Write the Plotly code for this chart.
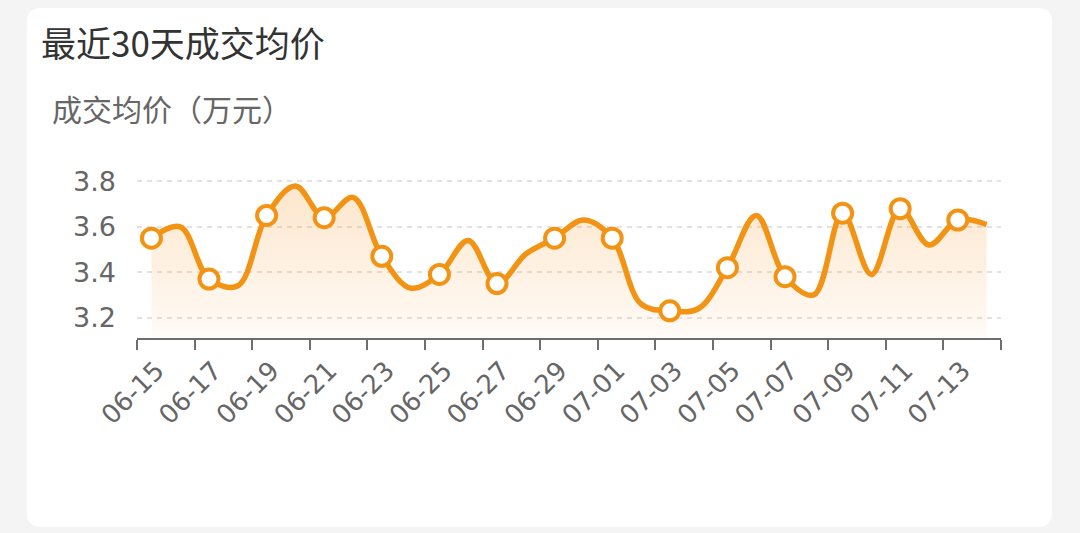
import plotly.graph_objects as go

dates = ["06-15", "06-16", "06-17", "06-18", "06-19", "06-20", "06-21", "06-22", "06-23", "06-24",
         "06-25", "06-26", "06-27", "06-28", "06-29", "06-30", "07-01", "07-02", "07-03", "07-04",
         "07-05", "07-06", "07-07", "07-08", "07-09", "07-10", "07-11", "07-12", "07-13", "07-14"]
prices = [3.55, 3.60, 3.37, 3.34, 3.65, 3.78, 3.64, 3.73, 3.47, 3.33,
          3.39, 3.54, 3.35, 3.48, 3.55, 3.63, 3.55, 3.26, 3.23, 3.24,
          3.42, 3.65, 3.38, 3.30, 3.66, 3.39, 3.68, 3.52, 3.63, 3.61]
y_ticks = [3.2, 3.4, 3.6, 3.8]
y_min, y_max = 3.11, 3.89

title_text = "最近30天成交均价"
unit_text = "成交均价（万元）"

ORANGE = "#F39313"
W, H = 1080, 533
L, R, T, B = 137, 79, 161, 195
pw, ph = W - L - R, H - T - B

idx = list(range(len(dates)))


def px(x):
    return (x - L) / pw


def py(y):
    return 1 - (y - T) / ph


fig = go.Figure()

fig.add_trace(go.Scatter(
    x=idx, y=prices, mode="lines",
    line=dict(color=ORANGE, width=5.5, shape="spline", smoothing=1.0),
    fill="tozeroy",
    fillgradient=dict(type="vertical", start=y_min, stop=max(prices),
                      colorscale=[[0, "rgba(247,150,40,0.04)"], [1, "rgba(247,150,40,0.24)"]]),
    hoverinfo="skip", showlegend=False,
))
fig.add_trace(go.Scatter(
    x=idx[::2], y=prices[::2], mode="markers",
    marker=dict(size=19, color="white", line=dict(color=ORANGE, width=4)),
    showlegend=False,
))

# card with rounded corners
x0, x1, y0, y1, r = 27, 1052, 8, 527, 14
X0, X1 = px(x0), px(x1)
Y0, Y1 = py(y0), py(y1)
rx, ry = r / pw, r / ph
path = (f"M {X0 + rx},{Y0} L {X1 - rx},{Y0} Q {X1},{Y0} {X1},{Y0 - ry} "
        f"L {X1},{Y1 + ry} Q {X1},{Y1} {X1 - rx},{Y1} L {X0 + rx},{Y1} "
        f"Q {X0},{Y1} {X0},{Y1 + ry} L {X0},{Y0 - ry} Q {X0},{Y0} {X0 + rx},{Y0} Z")
fig.add_shape(type="path", path=path, xref="paper", yref="paper",
              fillcolor="white", line=dict(width=0), layer="below")

fig.add_annotation(text=title_text, x=px(39), y=py(41), xref="paper", yref="paper",
                   xanchor="left", yanchor="middle", showarrow=False,
                   font=dict(family="Noto Sans CJK SC", size=35, color="#333333"))
fig.add_annotation(text=unit_text, x=px(50), y=py(108), xref="paper", yref="paper",
                   xanchor="left", yanchor="middle", showarrow=False,
                   font=dict(family="Noto Sans CJK SC", size=30, color="#666666"))

fig.update_layout(
    width=W, height=H,
    margin=dict(l=L, r=R, t=T, b=B),
    paper_bgcolor="#f4f4f4",
    plot_bgcolor="rgba(0,0,0,0)",
    xaxis=dict(
        range=[-0.5, len(dates) - 0.5],
        tickmode="array", tickvals=idx[::2], ticktext=dates[::2],
        tickangle=-45, ticks="", ticklabelstandoff=5, ticklabelshift=5,
        tickfont=dict(family="DejaVu Sans", size=26, color="#666666"),
        showgrid=False, zeroline=False,
        showline=True, linecolor="#6e6e6e", linewidth=2,
        minor=dict(tickmode="array", tickvals=[i - 0.5 for i in idx[::2]] + [len(dates) - 0.5],
                   ticks="outside", ticklen=10, tickwidth=2, tickcolor="#6e6e6e", showgrid=False),
    ),
    yaxis=dict(
        range=[y_min, y_max],
        tickmode="array", tickvals=y_ticks + [y_max],
        ticktext=[f"{v:.1f}" for v in y_ticks] + [""],
        tickfont=dict(family="DejaVu Sans", size=27, color="#666666"),
        showgrid=True, gridcolor="#e2e2e2", gridwidth=1.5, griddash="5px,5px",
        zeroline=False, showline=False, ticks="", ticklabelstandoff=20,
    ),
)

fig.write_html("out.html", config={"displayModeBar": False},
               post_script="document.body.style.margin='0';")
